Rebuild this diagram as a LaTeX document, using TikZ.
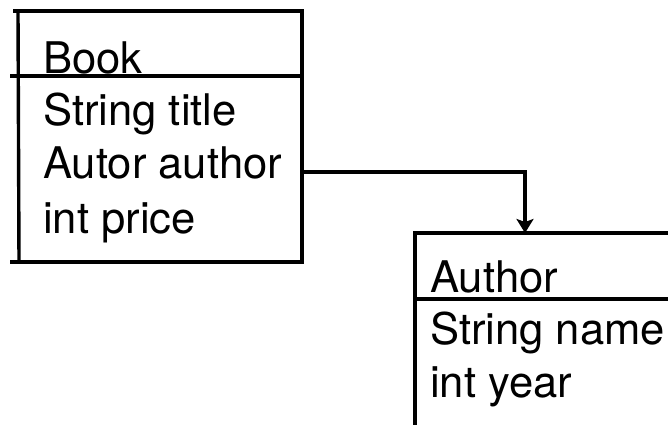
\documentclass[tikz,border=0pt]{standalone}
\usepackage{fontspec}
\setmainfont{TeX Gyre Heros}
\usetikzlibrary{arrows.meta}
\tikzset{
  rule/.style={line width=3.4pt, line cap=rect},
  field/.style={anchor=base west, inner sep=0pt, font=\fontsize{43.6}{52}\selectfont},
  link/.style={line width=3.4pt, -{Stealth[length=14pt,width=17pt,inset=3pt]}}
}
\begin{document}
\begin{tikzpicture}[x=1pt,y=-1pt]
  \useasboundingbox (0,0) rectangle (668,424);
  % class Book
  \draw[rule] (15,11) -- (302,11);
  \draw[rule] (18,11) -- (19,262);
  \draw[rule] (302,13) -- (302,262);
  \draw[rule] (12,76) -- (302,76);
  \draw[rule] (12,262) -- (302,262);
  \node[field] (bookname) at (43,73) {Book};
  \node[field] (btitle)   at (43,125) {String title};
  \node[field] (bauthor)  at (43,178) {Autor author};
  \node[field] (bprice)   at (43,233) {int price};
  % class Author
  \draw[rule] (415,233) -- (670,233);
  \draw[rule] (415,233) -- (415,426);
  \draw[rule] (415,299) -- (670,299);
  \node[field] (authname) at (430,292) {Author};
  \node[field] (aname)    at (430,344) {String name};
  \node[field] (ayear)    at (430,397) {int year};
  % association
  \coordinate (bookR) at (302,172);
  \coordinate (authTop) at (525,233);
  \draw[link] (bookR) -| (authTop);
\end{tikzpicture}
\end{document}
